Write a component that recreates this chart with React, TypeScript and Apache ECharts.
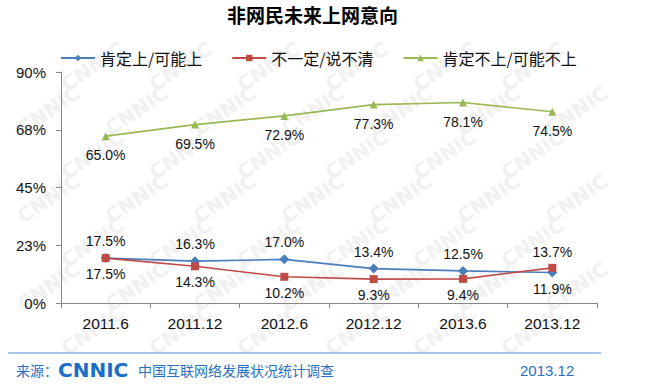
import React, { useEffect, useRef } from "react";
import * as echarts from "echarts";

const categories = ["2011.6", "2011.12", "2012.6", "2012.12", "2013.6", "2013.12"];
const seriesNames = ["肯定上/可能上", "不一定/说不清", "肯定不上/可能不上"];
const definitelyYes = [17.5, 16.3, 17.0, 13.4, 12.5, 11.9];
const uncertain = [17.5, 14.3, 10.2, 9.3, 9.4, 13.7];
const definitelyNo = [65.0, 69.5, 72.9, 77.3, 78.1, 74.5];
const yTicks = [0, 22.5, 45, 67.5, 90];

const FONT = "'Liberation Sans', Arial, sans-serif";
const CJK = "'Noto Sans CJK SC', sans-serif";
const BLUE_TEXT = "#2A6FC0";

export default function App() {
  const ref = useRef<HTMLDivElement>(null);
  useEffect(() => {
    if (!ref.current) return;
    const chart = echarts.init(ref.current, null, { renderer: "svg" });
    const labelStyle = {
      show: true,
      fontFamily: FONT,
      fontSize: 14,
      color: "#111",
      formatter: (p: any) => Number(p.value).toFixed(1) + "%",
    };
    const mk = (vals: number[], other: number[] | null, name: string, color: string, symbol: string, size: number) => ({
      name,
      type: "line",
      z: 3,
      data: vals.map((v, i) => {
        let pos = "bottom";
        let dist = 8;
        if (other) {
          pos = v > other[i] ? "top" : v < other[i] ? "bottom" : name === seriesNames[0] ? "top" : "bottom";
          dist = 5;
        }
        return { value: v, label: { position: pos, distance: dist } };
      }),
      symbol,
      symbolSize: size,
      showAllSymbol: true,
      lineStyle: { color, width: 1.6 },
      itemStyle: { color },
      label: labelStyle,
    });

    // faint decorative watermark, only where it fits fully inside the canvas
    const watermarks: any[] = [];
    for (let r = 0; r < 12; r++) {
      for (let c = 0; c < 10; c++) {
        const x = -30 + c * 88 + (r % 2) * 44;
        const y = -10 + r * 44;
        if (x < 2 || x + 74 > 644 || y - 44 < 2 || y + 18 > 382) continue;
        watermarks.push({
          type: "text",
          silent: true,
          z: -10,
          x,
          y,
          rotation: 0.6,
          style: { text: "CNNIC", fontFamily: "'DejaVu Sans', sans-serif", fontSize: 20, fontWeight: "bold", fill: "#f1f1f1" },
        });
      }
    }

    chart.setOption({
      animation: false,
      backgroundColor: "#ffffff",
      title: {
        text: "非网民未来上网意向",
        left: 222,
        top: 0,
        textStyle: { fontFamily: CJK, fontSize: 19, fontWeight: "bold", color: "#000" },
      },
      legend: {
        top: 45,
        left: 55,
        itemGap: 29,
        itemWidth: 34,
        itemHeight: 8,
        textStyle: { fontFamily: CJK, fontSize: 16, color: "#111" },
        data: seriesNames,
      },
      grid: { left: 61, right: 49, top: 72, bottom: 81 },
      xAxis: {
        type: "category",
        data: categories,
        boundaryGap: true,
        axisLine: { lineStyle: { color: "#888", width: 1 } },
        axisTick: { show: true, length: 5, lineStyle: { color: "#888" } },
        axisLabel: { fontFamily: FONT, fontSize: 15.5, color: "#111", margin: 12 },
      },
      yAxis: {
        type: "value",
        min: yTicks[0],
        max: yTicks[yTicks.length - 1],
        interval: yTicks[1] - yTicks[0],
        splitLine: { show: false },
        axisLine: { show: true, lineStyle: { color: "#888", width: 1 } },
        axisTick: { show: true, length: 5, lineStyle: { color: "#888" } },
        axisLabel: {
          fontFamily: FONT,
          fontSize: 15,
          color: "#111",
          margin: 15,
          formatter: (v: number) => Math.round(v) + "%",
        },
      },
      series: [
        mk(definitelyYes, uncertain, seriesNames[0], "#4A7EBB", "diamond", 10),
        mk(uncertain, definitelyYes, seriesNames[1], "#BE4B48", "rect", 8),
        mk(definitelyNo, null, seriesNames[2], "#98B954", "triangle", 8),
      ],
      graphic: [
        ...watermarks,
        { type: "line", shape: { x1: 8, y1: 353, x2: 601, y2: 353 }, style: { stroke: "#4A8FD8", lineWidth: 1.2 } },
        { type: "text", left: 16, top: 363, style: { text: "来源：", fontFamily: CJK, fontSize: 14, fill: BLUE_TEXT } },
        { type: "text", left: 58, top: 360, style: { text: "CNNIC", fontFamily: "'DejaVu Sans', sans-serif", fontSize: 20, fontWeight: 900, fill: "#1A6EC8" } },
        { type: "text", left: 138, top: 363, style: { text: "中国互联网络发展状况统计调查", fontFamily: CJK, fontSize: 14, fill: BLUE_TEXT } },
        { type: "text", left: 520, top: 363, style: { text: "2013.12", fontFamily: FONT, fontSize: 15, fill: BLUE_TEXT } },
      ],
    });
    return () => chart.dispose();
  }, []);
  return <div ref={ref} style={{ position: "absolute", left: 0, top: 0, width: 646, height: 384 }} />;
}
